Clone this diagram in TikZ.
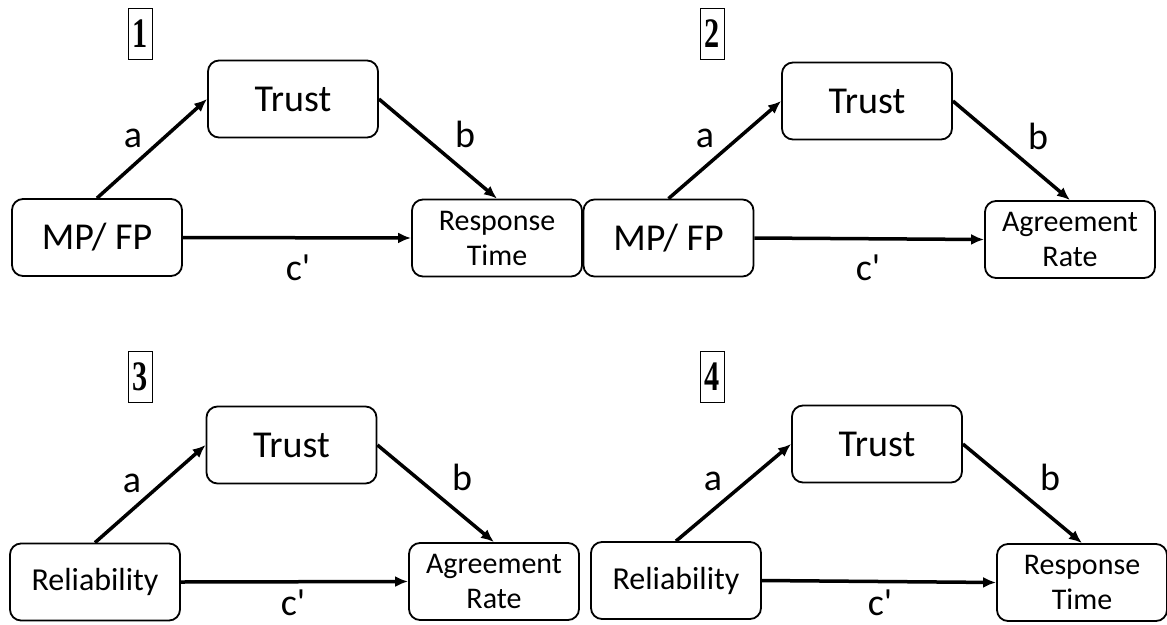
\documentclass[tikz,border=0pt]{standalone}
\usepackage{fontspec}
\setmainfont{Carlito}[Ligatures=TeXOff]
\newfontfamily\numfont{Liberation Serif}
\usetikzlibrary{arrows.meta}
\begin{document}
\begin{tikzpicture}[x=1pt,y=-1pt,
  box/.style={draw, line width=1.8pt, rounded corners=11pt, minimum width=170pt, minimum height=77pt, inner sep=2pt, align=center},
  big/.style={font=\fontsize{38}{45}\selectfont},
  mid/.style={font=\fontsize{32}{38}\selectfont},
  small/.style={font=\fontsize{30}{35}\selectfont},
  arr/.style={line width=3.5pt, -{Latex[length=13pt,width=11pt]}},
  lbl/.style={font=\fontsize{38}{44}\selectfont, inner sep=0pt, anchor=base},
  numbox/.style={draw, line width=0.8pt, minimum width=24pt, minimum height=51pt, inner sep=0pt, font=\numfont\bfseries\fontsize{42}{42}\selectfont}]
\useasboundingbox (0,0) rectangle (1167,624);

% Panel 1
\node[numbox] (n1) at (140,34) {\scalebox{0.72}[1]{1}};
\node[box,big] (t1) at (293,99) {Trust};
\node[box,big] (s1) at (97,237.5) {MP/ FP};
\node[box,small] (o1) at (497,238) {Response\\Time};
\draw[arr] (s1.north) -- (t1.west);
\draw[arr] (t1.east) -- (o1.north);
\draw[arr] (s1.east) -- (o1.west);
\node[lbl] (a1) at (133,147) {a};
\node[lbl] (b1) at (465,147) {b};
\node[lbl] (c1) at (298,280) {c'};

% Panel 2
\node[numbox] (n2) at (712,34) {\scalebox{0.72}[1]{2}};
\node[box,big] (t2) at (867,101) {Trust};
\node[box,big] (s2) at (668.5,238) {MP/ FP};
\node[box,small] (o2) at (1070,239.5) {Agreement\\Rate};
\draw[arr] (s2.north) -- (t2.west);
\draw[arr] (t2.east) -- (o2.north);
\draw[arr] (s2.east) -- (o2.west);
\node[lbl] (a2) at (705,147) {a};
\node[lbl] (b2) at (1038,149) {b};
\node[lbl] (c2) at (868,280) {c'};

% Panel 3
\node[numbox] (n3) at (140,376.5) {\scalebox{0.72}[1]{3}};
\node[box,big] (t3) at (291.5,445) {Trust};
\node[box,mid] (s3) at (95,582) {Reliability};
\node[box,small] (o3) at (494,581.5) {Agreement\\Rate};
\draw[arr] (s3.north) -- (t3.west);
\draw[arr] (t3.east) -- (o3.north);
\draw[arr] (s3.east) -- (o3.west);
\node[lbl] (a3) at (132,492) {a};
\node[lbl] (b3) at (462,490) {b};
\node[lbl] (c3) at (293,615) {c'};

% Panel 4
\node[numbox] (n4) at (712.5,377) {\scalebox{0.72}[1]{4}};
\node[box,big] (t4) at (877,444) {Trust};
\node[box,mid] (s4) at (676,580.5) {Reliability};
\node[box,small] (o4) at (1082,582.5) {Response\\Time};
\draw[arr] (s4.north) -- (t4.west);
\draw[arr] (t4.east) -- (o4.north);
\draw[arr] (s4.east) -- (o4.west);
\node[lbl] (a4) at (713,490) {a};
\node[lbl] (b4) at (1050,490) {b};
\node[lbl] (c4) at (880,615) {c'};
\end{tikzpicture}
\end{document}
